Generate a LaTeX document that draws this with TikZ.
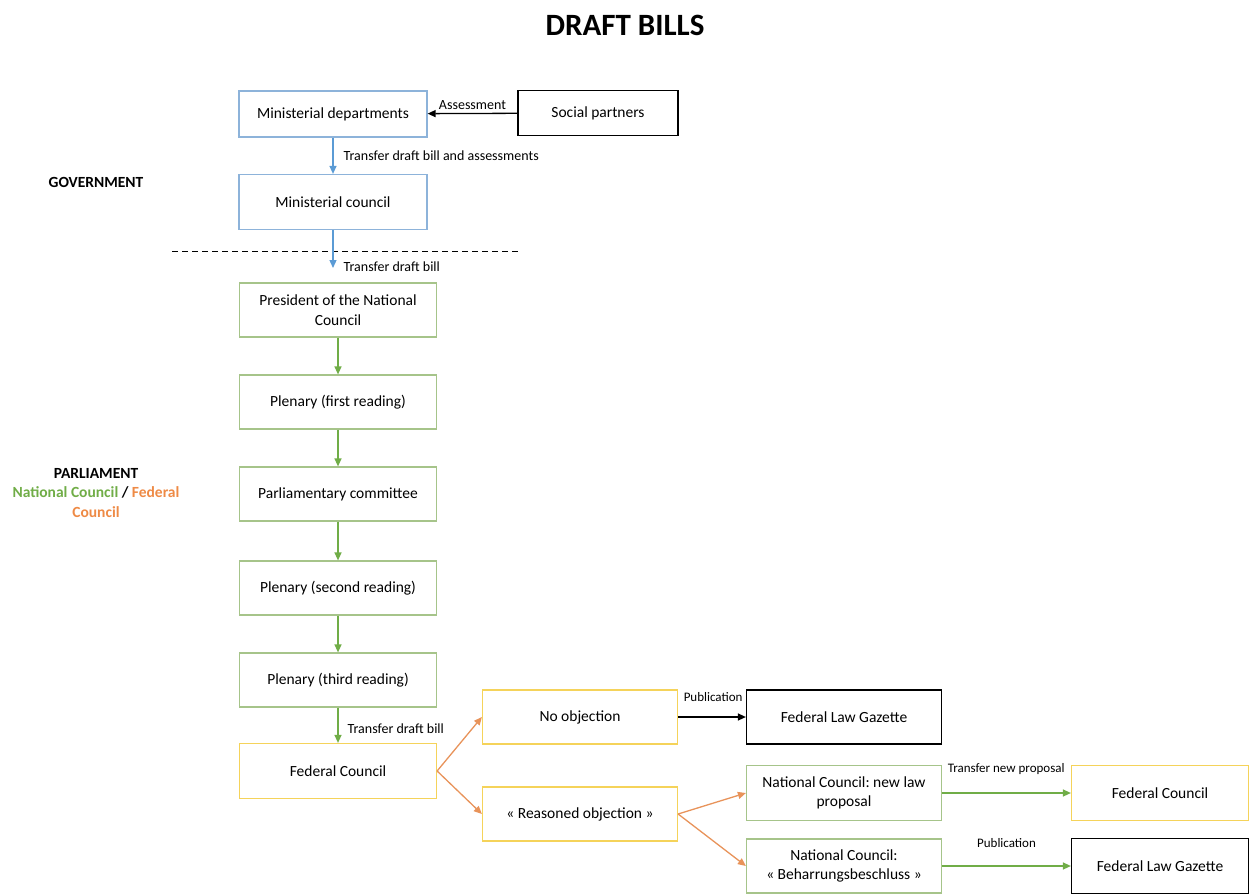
\documentclass[tikz,border=0pt]{standalone}
\usepackage{fontspec}
\setmainfont{Carlito}
\frenchspacing
\usetikzlibrary{arrows.meta,positioning}
\definecolor{govblue}{HTML}{5B9BD5}
\definecolor{govbluebox}{HTML}{8DB3DA}
\definecolor{parlgreen}{HTML}{70AD47}
\definecolor{parlgreenbox}{HTML}{A6C48A}
\definecolor{fedyellow}{HTML}{F5D35A}
\definecolor{fedorange}{HTML}{E8935A}
\definecolor{fedtext}{HTML}{EE8A45}
\newcommand\boxfont{\fontsize{15.5}{19.5}\selectfont}
\newcommand\lblfont{\fontsize{14}{16}\selectfont}
\newcommand\smalllblfont{\fontsize{13}{15}\selectfont}
\newcommand\drafttitlefont{\fontsize{31}{36}\selectfont\bfseries}
\tikzset{
box/.style={draw=#1, line width=1.2pt, minimum width=197pt, minimum height=54pt, align=center, font=\boxfont, inner sep=2pt},
box/.default=black,
flow/.style={-{Triangle[length=8pt,width=7pt]}, line width=1.3pt, draw=#1},
flow/.default=black,
lbl/.style={font=\lblfont, inner sep=1pt},
smalllbl/.style={font=\smalllblfont, inner sep=1pt},
sidelabel/.style={font=\boxfont\bfseries, align=center},
divider/.style={line width=1pt, dash pattern=on 6pt off 4pt},
}

\begin{document}
\begin{tikzpicture}[x=1pt,y=-1pt]
        \useasboundingbox (0,0) rectangle (1250,894);

        % Title
        \node[font=\drafttitlefont] (title) at (625,25) {DRAFT BILLS};

        % Side labels
        \node[sidelabel] (govlabel) at (96,182) {GOVERNMENT};
        \node[sidelabel] (parllabel) at (96,493)
        {PARLIAMENT\\ \textcolor{parlgreen}{National Council} / \textcolor{fedtext}{Federal}\\ \textcolor{fedtext}{Council}};

        % Government
        \node[box=govbluebox, minimum width=188pt, minimum height=46pt] (mindep) at (333,114) {Ministerial departments};
        \node[box, minimum width=160pt, minimum height=45pt] (social) at (598,113) {Social partners};
        \node[box=govbluebox, minimum width=188pt, minimum height=55pt] (mincouncil) at (333,202) {Ministerial council};
        \coordinate (handover) at (333,268);

        \draw[flow] (social) -- (mindep)
        node[lbl, midway, above, yshift=2pt] {Assessment};
        \draw[flow=govblue] (mindep) -- (mincouncil)
        node[lbl, midway, anchor=west, xshift=9pt] {Transfer draft bill and assessments};

        % Border between government and parliament
        \coordinate (divider west) at (172,251);
        \coordinate (divider east) at (518,251);
        \draw[divider] (divider west) -- (divider east);
        \draw[flow=govblue] (mincouncil) -- (handover)
        node[lbl, anchor=west, xshift=9pt, yshift=1pt] {Transfer draft bill};

        % Parliament (National Council)
        \node[box=parlgreenbox] (president) at (338,310) {President of the National\\Council};
        \node[box=parlgreenbox] (plenfirst) at (338,402) {Plenary (first reading)};
        \node[box=parlgreenbox] (committee) at (338,494) {Parliamentary committee};
        \node[box=parlgreenbox] (plensecond) at (338,588) {Plenary (second reading)};
        \node[box=parlgreenbox] (plenthird) at (338,680) {Plenary (third reading)};

        \foreach \from/\to in {president/plenfirst, plenfirst/committee, committee/plensecond, plensecond/plenthird}
        \draw[flow=parlgreen] (\from) -- (\to);

        % Federal Council
        \node[box=fedyellow, minimum height=55pt] (fedcouncil) at (338,771) {Federal Council};
        \draw[flow=parlgreen] (plenthird) -- (fedcouncil)
        node[lbl, midway, anchor=west, xshift=8pt, yshift=-3pt] {Transfer draft bill};

        \node[box=fedyellow, minimum width=195pt] (noobj) at (580,717) {No objection};
        \node[box=fedyellow, minimum width=195pt] (reasoned) at (580,814) {« Reasoned objection »};
        \draw[flow=fedorange] (fedcouncil.east) -- (noobj.west);
        \draw[flow=fedorange] (fedcouncil.east) -- (reasoned.west);

        % Outcomes
        \node[box, minimum width=195pt] (gazette) at (844,717) {Federal Law Gazette};
        \node[box=parlgreenbox, minimum width=195pt, minimum height=55pt] (ncnew) at (844,793) {National Council: new law\\proposal};
        \node[box=parlgreenbox, minimum width=195pt] (ncbeh) at (844,866) {National Council:\\« Beharrungsbeschluss »};
        \node[box=fedyellow, minimum width=177pt, minimum height=55pt] (fedcouncilb) at (1160,793) {Federal Council};
        \node[box, minimum width=177pt, minimum height=55pt] (gazetteb) at (1160,866) {Federal Law Gazette};

        \draw[flow] (noobj) -- (gazette)
        node[smalllbl, pos=0, anchor=west, xshift=4pt, yshift=20pt] {Publication};
        \draw[flow=fedorange] (reasoned.east) -- (ncnew.west);
        \draw[flow=fedorange] (reasoned.east) -- (ncbeh.west);
        \draw[flow=parlgreen] (ncnew) -- (fedcouncilb)
        node[smalllbl, pos=0, anchor=west, xshift=4pt, yshift=24pt] {Transfer new proposal};
        \draw[flow=parlgreen] (ncbeh) -- (gazetteb)
        node[smalllbl, midway, yshift=23pt] {Publication};

\end{tikzpicture}
\end{document}
